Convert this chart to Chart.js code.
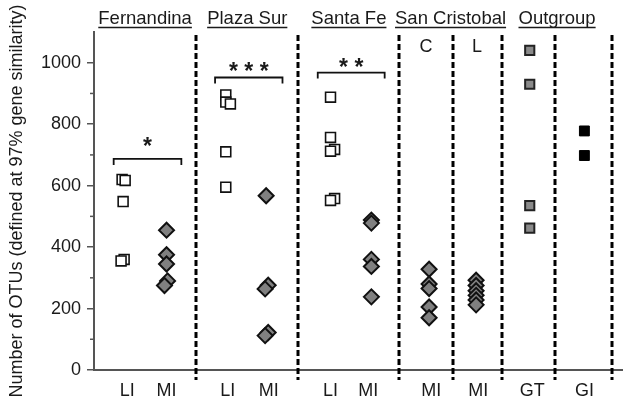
<!DOCTYPE html>
<html>
<head>
<meta charset="utf-8">
<script src="https://cdn.jsdelivr.net/npm/chart.js@4"></script>
<style>
  body { margin: 0; background: #fff; }
  #wrap { width: 632px; height: 413px; }
</style>
</head>
<body>
<div id="wrap"><canvas id="otuChart"></canvas></div>
<script>
// categories along the x axis and where they sit (axis units)
const categories = ['LI', 'MI', 'LI', 'MI', 'LI', 'MI', 'MI', 'MI', 'GT', 'GI'];
const catPos = [0.65, 1.42, 2.62, 3.42, 4.63, 5.37, 6.6, 7.52, 8.58, 9.6];
const yTicks = [0, 100, 200, 300, 400, 500, 600, 700, 800, 900, 1000];

// group headers + separators
const groups = ['Fernandina', 'Plaza Sur', 'Santa Fe', 'San Cristobal', 'Outgroup'];
const groupBounds = [[0, 2], [2, 4], [4, 5.98], [5.98, 7.98], [7.98, 10.15]];
const sepPos = [2, 4, 5.98, 7.02, 7.98, 9.02, 10.15];
const subLabels = ['C', 'L'];
const subPos = [6.5, 7.5];

// OTU counts
const liFern = [620, 617, 548, 360, 355];
const miFern = [455, 375, 345, 290, 275];
const liPlaza = [895, 872, 866, 710, 595];
const miPlaza = [567, 276, 264, 122, 112];
const liSanta = [888, 757, 718, 712, 558, 552];
const miSanta = [488, 478, 360, 337, 238];
const miCristC = [328, 280, 265, 205, 170];
const miCristL = [292, 275, 258, 243, 228, 212];
const gtOut = [1040, 930, 535, 462];
const giOut = [778, 698];

// small sideways offsets so overlapping symbols show like in the figure
const jFern = [-0.1, -0.04, -0.08, -0.06, -0.12];
const jFernMI = [0, 0, 0, 0.02, -0.04];
const jPlaza = [-0.04, -0.04, 0.05, -0.04, -0.04];
const jPlazaMI = [-0.05, -0.01, -0.07, -0.01, -0.07];
const jSanta = [0, 0, 0.08, 0, 0.08, 0];
const jSantaMI = [0.06, 0.06, 0.06, 0.06, 0.06];

// significance brackets
const bracketX = [[0.385, 1.71], [2.37, 3.69], [4.38, 5.69]];
const bracketY = [687, 952, 968];
const bracketStars = ['*', '* * *', '* *'];
const starY = [745, 990, 1003];

function pts(values, pos, jit) {
    return values.map((v, i) => ({ x: pos + (jit ? jit[i] : 0), y: v }));
}

const FONT = '"Liberation Sans", Arial, sans-serif';

const overlay = {
    id: 'overlay',
    beforeDatasetsDraw(chart) {
        const ctx = chart.ctx;
        const xs = chart.scales.x, ys = chart.scales.y;
        ctx.save();
        // dashed separators
        ctx.strokeStyle = '#000';
        ctx.lineWidth = 3;
        ctx.setLineDash([6, 3]);
        sepPos.forEach(p => {
            const x = Math.round(xs.getPixelForValue(p));
            ctx.beginPath();
            ctx.moveTo(x, ys.getPixelForValue(1090));
            ctx.lineTo(x, ys.bottom + 10);
            ctx.stroke();
        });
        ctx.setLineDash([]);

        // minor y ticks
        ctx.strokeStyle = '#555';
        ctx.lineWidth = 1.5;
        yTicks.filter(v => v % 200 !== 0).forEach(v => {
            const y = ys.getPixelForValue(v);
            ctx.beginPath();
            ctx.moveTo(xs.left - 4, y);
            ctx.lineTo(xs.left, y);
            ctx.stroke();
        });

        // group headers (underlined)
        ctx.fillStyle = '#1a1a1a';
        ctx.font = '18.5px ' + FONT;
        ctx.textAlign = 'center';
        ctx.textBaseline = 'alphabetic';
        groups.forEach((g, i) => {
            const cx = xs.getPixelForValue((groupBounds[i][0] + groupBounds[i][1]) / 2);
            ctx.fillText(g, cx, 24);
            const w = ctx.measureText(g).width;
            ctx.strokeStyle = '#1a1a1a';
            ctx.lineWidth = 1.4;
            ctx.beginPath();
            ctx.moveTo(cx - w / 2, 27.5);
            ctx.lineTo(cx + w / 2, 27.5);
            ctx.stroke();
        });

        // C / L
        ctx.font = '18px ' + FONT;
        subLabels.forEach((s, i) => {
            ctx.fillText(s, xs.getPixelForValue(subPos[i]), 52);
        });

        // brackets with stars
        ctx.strokeStyle = '#111';
        ctx.lineWidth = 1.8;
        bracketX.forEach((b, i) => {
            const x0 = xs.getPixelForValue(b[0]), x1 = xs.getPixelForValue(b[1]);
            const y = ys.getPixelForValue(bracketY[i]);
            ctx.beginPath();
            ctx.moveTo(x0, y + 6);
            ctx.lineTo(x0, y);
            ctx.lineTo(x1, y);
            ctx.lineTo(x1, y + 6);
            ctx.stroke();
            ctx.font = 'bold 23px ' + FONT;
            ctx.fillText(bracketStars[i], (x0 + x1) / 2, ys.getPixelForValue(starY[i]) + 13);
        });
        ctx.restore();
    }
};

new Chart(document.getElementById('otuChart'), {
    type: 'scatter',
    data: {
        datasets: [
            {
                label: 'LI',
                data: [].concat(pts(liFern, catPos[0], jFern), pts(liPlaza, catPos[2], jPlaza), pts(liSanta, catPos[4], jSanta)),
                pointStyle: 'rect',
                pointRadius: 7,
                backgroundColor: '#fff',
                borderColor: '#111',
                borderWidth: 1.6
            },
            {
                label: 'MI',
                data: [].concat(pts(miFern, catPos[1], jFernMI), pts(miPlaza, catPos[3], jPlazaMI), pts(miSanta, catPos[5], jSantaMI),
                    pts(miCristC, catPos[6] - 0.04), pts(miCristL, catPos[7] - 0.04)),
                pointStyle: 'rectRot',
                pointRadius: 7.5,
                backgroundColor: '#808080',
                borderColor: '#111',
                borderWidth: 2
            },
            {
                label: 'GT',
                data: pts(gtOut, catPos[8] - 0.05),
                pointStyle: 'rect',
                pointRadius: 6.5,
                backgroundColor: '#8a8a8a',
                borderColor: '#222',
                borderWidth: 2
            },
            {
                label: 'GI',
                data: pts(giOut, catPos[9]),
                pointStyle: 'rect',
                pointRadius: 7,
                backgroundColor: '#000',
                borderColor: '#000',
                borderWidth: 1
            }
        ]
    },
    options: {
        responsive: true,
        maintainAspectRatio: false,
        animation: false,
        layout: { padding: { top: 32, left: 0, right: 0, bottom: 0 } },
        plugins: {
            legend: { display: false },
            tooltip: { enabled: false }
        },
        scales: {
            x: {
                type: 'linear',
                min: 0,
                max: 10.346,
                afterBuildTicks: s => { s.ticks = catPos.map(v => ({ value: v })); },
                afterFit: s => { s.height = 43; },
                grid: { display: false },
                border: { display: true, color: '#555', width: 2 },
                ticks: {
                    autoSkip: false,
                    maxRotation: 0,
                    padding: 2,
                    color: '#1a1a1a',
                    font: { family: FONT, size: 18 },
                    callback: (v, i) => categories[i]
                }
            },
            y: {
                min: 0,
                max: 1100,
                afterBuildTicks: s => { s.ticks = yTicks.map(v => ({ value: v })); },
                afterFit: s => { s.width = 94; },
                grid: {
                    drawOnChartArea: false,
                    tickLength: 7,
                    lineWidth: 1.5,
                    tickColor: c => (c.tick && c.tick.value % 200 === 0) ? '#555' : 'rgba(0,0,0,0)'
                },
                border: { display: true, color: '#555', width: 2 },
                ticks: {
                    padding: 6,
                    color: '#1a1a1a',
                    font: { family: FONT, size: 18 },
                    callback: v => (v % 200 === 0 ? v : '')
                },
                title: {
                    display: true,
                    text: 'Number of OTUs (defined at 97% gene similarity)',
                    color: '#1a1a1a',
                    font: { family: FONT, size: 18 },
                    padding: { top: 6, bottom: 0 }
                }
            }
        }
    },
    plugins: [overlay]
});
</script>
</body>
</html>
